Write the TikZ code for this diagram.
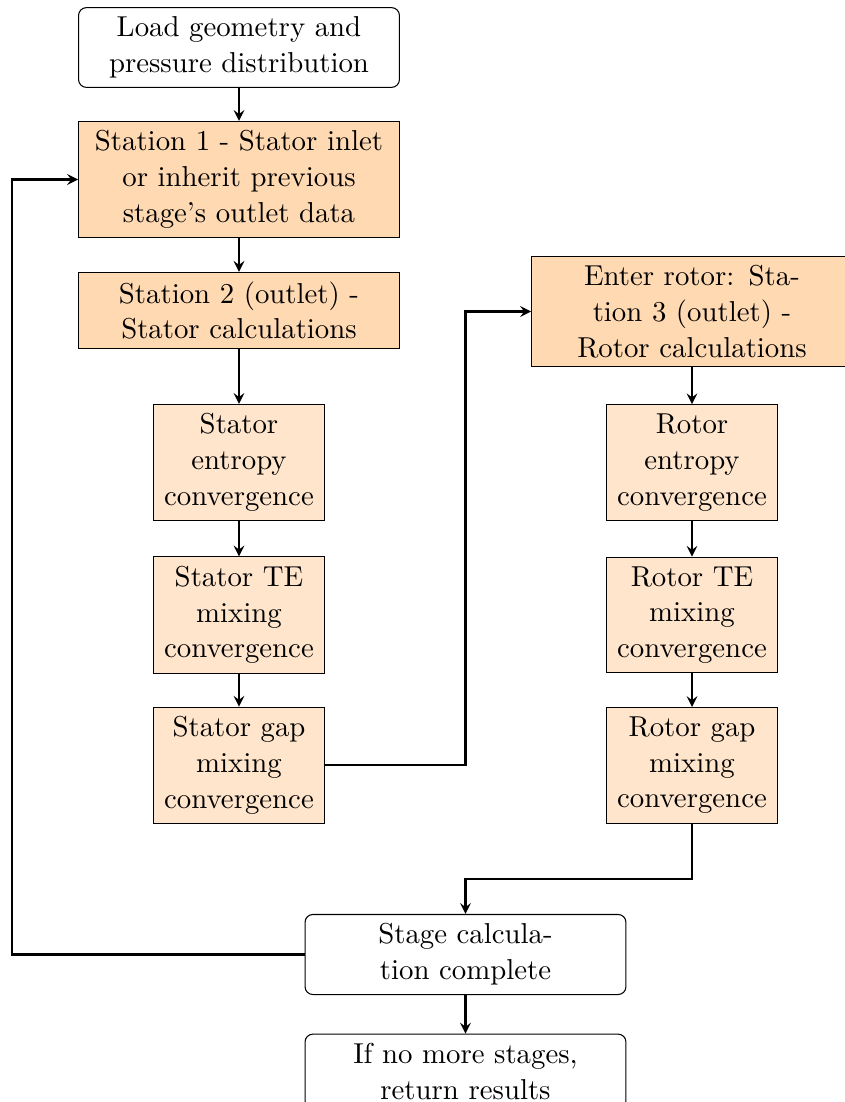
\documentclass[tikz,border=0pt]{standalone}
\usetikzlibrary{calc}
\begin{document}
\begin{tikzpicture}[x=0.3802pt,y=-0.3802pt,
  base/.style={draw, align=center, inner xsep=0.41em, inner ysep=0.35em,
    font=\fontsize{10.95}{13.6}\selectfont},
  endbox/.style={base, rounded corners=3pt, text width=4cm},
  mainbox/.style={base, fill=orange!30, text width=4cm},
  subbox/.style={base, fill=orange!20, text width=2cm},
  flow/.style={thick, ->, >=stealth}]
\useasboundingbox (0,0) rectangle (845,1102);

% stator side
\node[endbox]  (load) at (239,47.5)  {Load geometry and\\pressure distribution};
\node[mainbox] (st1)  at (239,179.5) {Station 1 - Stator inlet\\or inherit previous\\stage's outlet data};
\node[mainbox] (st2)  at (239,310.5) {Station 2 (outlet) -\\Stator calculations};
\node[subbox]  (sent) at (239,462.5) {Stator\\entropy\\convergence};
\node[subbox]  (ste)  at (239,615)   {Stator TE\\mixing\\convergence};
\node[subbox]  (sgap) at (239,765.3) {Stator gap\\mixing\\convergence};

% rotor side
\node[mainbox] (rot)  at (692,311.5) {Enter rotor: Sta-\\tion 3 (outlet) -\\Rotor calculations};
\node[subbox]  (rent) at (692,462.5) {Rotor\\entropy\\convergence};
\node[subbox]  (rte)  at (692,615)   {Rotor TE\\mixing\\convergence};
\node[subbox]  (rgap) at (692,765.3) {Rotor gap\\mixing\\convergence};

% stage end
\node[endbox] (stage) at (465.5,954.5) {Stage calcula-\\tion complete};
\node[endbox] (final) at (465.5,1071.5) {If no more stages,\\return results};

\coordinate (loop) at (12,0);

\draw[flow] (load) -- (st1);
\draw[flow] (st1) -- (st2);
\draw[flow] (st2) -- (sent);
\draw[flow] (sent) -- (ste);
\draw[flow] (ste) -- (sgap);
\draw[flow] (sgap.east) -- (sgap.east -| stage.center) |- (rot.west);
\draw[flow] (rot) -- (rent);
\draw[flow] (rent) -- (rte);
\draw[flow] (rte) -- (rgap);
\draw[flow] (rgap.south) -- ++(0,55) -| (stage.north);
\draw[flow] (stage.west) -- (stage.west -| loop) |- (st1.west);
\draw[flow] (stage) -- (final);
\end{tikzpicture}
\end{document}
